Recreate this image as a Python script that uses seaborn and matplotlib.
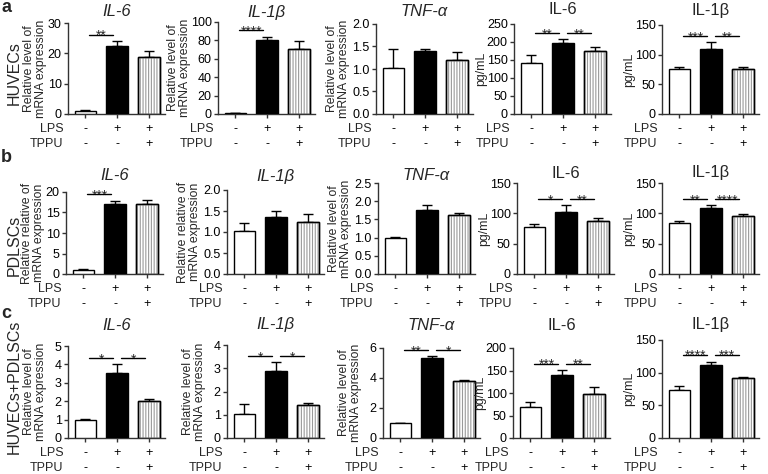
import matplotlib
matplotlib.use("Agg")
import matplotlib.pyplot as plt
from matplotlib.patches import Rectangle
import seaborn as sns
import numpy as np

# groups and treatment rows
groups = ["Control", "LPS", "LPS+TPPU"]
lps = ["-", "+", "+"]
tppu = ["-", "-", "+"]
bar_colors = ["white", "black", "white"]

# a: HUVECs
a_il6_mrna = [1.0, 22.3, 18.7]
a_il6_mrna_sd = [0.2, 1.7, 2.1]
a_il1b_mrna = [1.0, 80.0, 71.0]
a_il1b_mrna_sd = [0.5, 4.0, 8.0]
a_tnf_mrna = [1.02, 1.40, 1.21]
a_tnf_mrna_sd = [0.42, 0.04, 0.17]
a_il6_elisa = [141, 196, 174]
a_il6_elisa_sd = [24, 11, 11]
a_il1b_elisa = [76, 110, 76]
a_il1b_elisa_sd = [4, 11, 4]

# b: PDLSCs
b_il6_mrna = [1.0, 17.1, 17.0]
b_il6_mrna_sd = [0.1, 0.8, 1.0]
b_il1b_mrna = [1.02, 1.36, 1.24]
b_il1b_mrna_sd = [0.20, 0.13, 0.20]
b_tnf_mrna = [1.0, 1.77, 1.61]
b_tnf_mrna_sd = [0.03, 0.13, 0.06]
b_il6_elisa = [78, 102, 87]
b_il6_elisa_sd = [4, 11, 5]
b_il1b_elisa = [84, 109, 95]
b_il1b_elisa_sd = [4, 4, 4]

# c: HUVECs+PDLSCs
c_il6_mrna = [0.97, 3.55, 2.0]
c_il6_mrna_sd = [0.07, 0.45, 0.12]
c_il1b_mrna = [1.05, 2.88, 1.42]
c_il1b_mrna_sd = [0.40, 0.37, 0.10]
c_tnf_mrna = [0.99, 5.33, 3.80]
c_tnf_mrna_sd = [0.03, 0.12, 0.05]
c_il6_elisa = [70, 141, 98]
c_il6_elisa_sd = [9, 10, 15]
c_il1b_elisa = [74, 112, 92]
c_il1b_elisa_sd = [6, 5, 2]

# significance brackets (bar i, bar j, label)
a_sig = [[(0, 1, "**")], [(0, 1, "****")], [], [(0, 1, "**"), (1, 2, "**")], [(0, 1, "***"), (1, 2, "**")]]
b_sig = [[(0, 1, "***")], [], [], [(0, 1, "*"), (1, 2, "**")], [(0, 1, "**"), (1, 2, "****")]]
c_sig = [[(0, 1, "*"), (1, 2, "*")], [(0, 1, "*"), (1, 2, "*")], [(0, 1, "**"), (1, 2, "*")],
         [(0, 1, "***"), (1, 2, "**")], [(0, 1, "****"), (1, 2, "***")]]

titles = ["IL-6", "IL-1β", "TNF-α", "IL-6", "IL-1β"]
row_names = ["HUVECs", "PDLSCs", "HUVECs+PDLSCs"]
lab_mrna = "Relative level of\nmRNA expression"
lab_mrna_b = "Relative relative of\nmRNA expression"
lab_elisa = "pg/mL"

sns.set_style("ticks")
plt.rcParams["font.family"] = ["Liberation Sans", "DejaVu Sans"]
plt.rcParams["hatch.linewidth"] = 0.8
plt.rcParams["axes.edgecolor"] = "#333333"
plt.rcParams["axes.linewidth"] = 1.0

W, H = 768, 474
fig = plt.figure(figsize=(W / 100, H / 100), dpi=100)


def px_axes(left, top, bottom, width=97):
    return fig.add_axes([left / W, 1 - bottom / H, width / W, (bottom - top) / H])


def draw_panel(ax, means, sds, sig, ymax, ystep, ylabel, decimals=False):
    sns.barplot(x=groups, y=means, hue=groups, palette=bar_colors, legend=False,
                edgecolor="black", linewidth=1, width=0.68, errorbar=None, ax=ax, zorder=3)
    p = ax.patches[2]
    ax.add_patch(Rectangle(p.get_xy(), p.get_width(), p.get_height(), fill=False,
                           hatch="||||||", edgecolor="#999999", linewidth=0, zorder=3.5))
    ax.add_patch(Rectangle(p.get_xy(), p.get_width(), p.get_height(), fill=False,
                           edgecolor="black", linewidth=1, zorder=3.6))
    ax.errorbar(range(3), means, yerr=[np.zeros(3), sds], fmt="none", ecolor="black",
                elinewidth=1, capsize=3.5, capthick=1, zorder=2)

    ax.set_xlim(-0.55, 2.5)
    ax.set_ylim(0, ymax)
    ticks = np.arange(0, ymax + ystep / 2, ystep)
    labels = [f"{t:.1f}" if decimals else f"{t:g}" for t in ticks]
    ax.set_yticks(ticks)
    ax.set_yticklabels(labels)
    ax.set_xticks(range(3))
    ax.set_xticklabels([f"{l}\n{t}" for l, t in zip(lps, tppu)], linespacing=1.35)
    ax.tick_params(axis="y", labelsize=9, length=3, width=1, pad=1.5, colors="#333333", labelcolor="black")
    ax.tick_params(axis="x", labelsize=9, length=3, width=1, pad=3.5, colors="#333333", labelcolor="black")
    ax.annotate("LPS\nTPPU", xy=(0, 0), xycoords="axes fraction", xytext=(-3.5, -6.5),
                textcoords="offset points", ha="right", va="top", fontsize=9, linespacing=1.35)
    sns.despine(ax=ax)

    # keep the label clear of the widest tick label
    if decimals:
        label_off = 26
    elif max(len(s) for s in labels) >= 3:
        label_off = 27
    else:
        label_off = 21
    ax.set_ylabel(ylabel, fontsize=8.8, linespacing=0.95)
    ax.yaxis.set_label_coords(-label_off / 97, 0.5)

    if sig:
        h = max(m + s for m, s in zip(means, sds)) + 0.07 * ymax
        for i, j, star in sig:
            ax.plot([i + 0.12, j - 0.12], [h, h], color="black", lw=1, clip_on=False, zorder=5)
            ax.annotate(star, xy=((i + j) / 2, h), xytext=(0, -3.9), textcoords="offset points",
                        ha="center", va="baseline", fontsize=10)


rows = [
    dict(data=[(a_il6_mrna, a_il6_mrna_sd), (a_il1b_mrna, a_il1b_mrna_sd), (a_tnf_mrna, a_tnf_mrna_sd),
               (a_il6_elisa, a_il6_elisa_sd), (a_il1b_elisa, a_il1b_elisa_sd)],
         sig=a_sig, ymax=[30, 100, 2.0, 250, 150], ystep=[10, 20, 0.5, 50, 50],
         ylab=[lab_mrna, lab_mrna, lab_mrna, lab_elisa, lab_elisa],
         lefts=[68, 218, 376, 514, 662], tops=[23, 22, 24, 24, 25], bottom=114,
         title_y=[12, 12, 12, 10, 10], name_y=73, letter_y=8),
    dict(data=[(b_il6_mrna, b_il6_mrna_sd), (b_il1b_mrna, b_il1b_mrna_sd), (b_tnf_mrna, b_tnf_mrna_sd),
               (b_il6_elisa, b_il6_elisa_sd), (b_il1b_elisa, b_il1b_elisa_sd)],
         sig=b_sig, ymax=[20, 2.0, 2.5, 150, 150], ystep=[5, 0.5, 0.5, 50, 50],
         ylab=[lab_mrna_b, lab_mrna_b, lab_mrna, lab_elisa, lab_elisa],
         lefts=[66, 227, 378, 517, 662], tops=[192, 190, 183, 183, 183], bottom=274,
         title_y=[176, 176, 176, 173, 173], name_y=245, letter_y=158),
    dict(data=[(c_il6_mrna, c_il6_mrna_sd), (c_il1b_mrna, c_il1b_mrna_sd), (c_tnf_mrna, c_tnf_mrna_sd),
               (c_il6_elisa, c_il6_elisa_sd), (c_il1b_elisa, c_il1b_elisa_sd)],
         sig=c_sig, ymax=[5, 4, 6, 200, 150], ystep=[1, 1, 2, 50, 50],
         ylab=[lab_mrna, lab_mrna, lab_mrna, lab_elisa, lab_elisa],
         lefts=[68, 227, 383, 513, 662], tops=[346, 345, 348, 348, 340], bottom=438,
         title_y=[325, 325, 325, 325, 325], name_y=387, letter_y=313),
]

for row, letter, name in zip(rows, "abc", row_names):
    for k in range(5):
        ax = px_axes(row["lefts"][k], row["tops"][k], row["bottom"])
        means, sds = row["data"][k]
        is_mrna = k < 3
        draw_panel(ax, means, sds, row["sig"][k], row["ymax"][k], row["ystep"][k],
                   row["ylab"][k], decimals=row["ystep"][k] < 1)
        fig.text((row["lefts"][k] + 97 / 2) / W, 1 - row["title_y"][k] / H, titles[k],
                 fontsize=12, style="italic" if is_mrna else "normal", ha="center", va="center")
    fig.text(14 / W, 1 - row["name_y"] / H, name, rotation=90, fontsize=11.5, ha="center", va="center")
    fig.text(1 / W, 1 - row["letter_y"] / H, letter, fontsize=13, fontweight="bold", ha="left", va="center")

fig.savefig("out.png", dpi=100)
